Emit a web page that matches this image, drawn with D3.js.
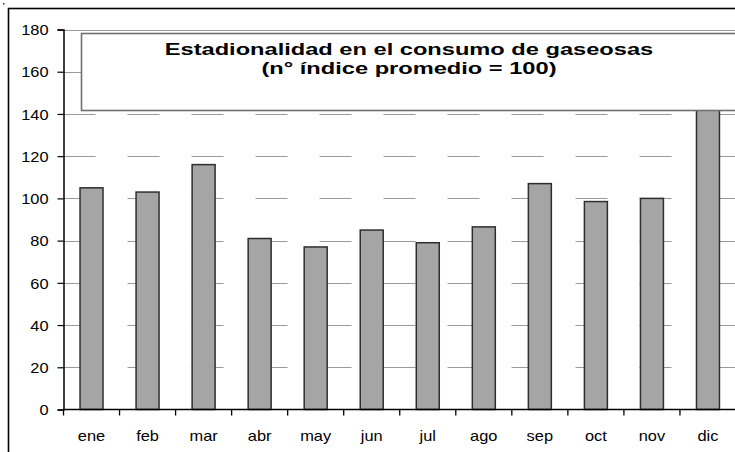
<!DOCTYPE html>
<html>
<head>
<meta charset="utf-8">
<script src="https://cdn.jsdelivr.net/npm/d3@7"></script>
<style>
  html, body { margin: 0; padding: 0; background: #fff; }
  svg { display: block; }
  text { font-family: "Liberation Sans", Arial, sans-serif; fill: #000; }
</style>
</head>
<body>
<svg id="chart" width="735" height="452"></svg>
<script>
// Monthly seasonality index of soft-drink consumption (average = 100)
const months = ["ene", "feb", "mar", "abr", "may", "jun", "jul", "ago", "sep", "oct", "nov", "dic"];
const indexValues = [105, 103, 116, 81, 77, 85, 79, 86.5, 107, 98.5, 100, 162];
const yTicks = [0, 20, 40, 60, 80, 100, 120, 140, 160, 180];
const titleLines = ["Estadionalidad en el consumo de gaseosas", "(n° índice promedio = 100)"];

(function () {
  const svg = d3.select("#chart");
  const W = 735, H = 452;

  // plot area
  const plotL = 63.5, plotR = 736, plotT = 29.5, plotB = 409.5;

  const x = d3.scaleBand()
    .domain(months)
    .range([plotL, plotR])
    .paddingInner(0.59)
    .paddingOuter(0.295);

  const y = d3.scaleLinear()
    .domain([0, 180])
    .range([plotB, plotT]);

  const step = x.step();
  const gap = (step - x.bandwidth()) / 2;

  // widen glyphs horizontally, as the chart's lettering is drawn wide
  function stretch(sel, k) {
    sel.each(function () {
      const len = this.getComputedTextLength();
      d3.select(this).attr("textLength", len * k).attr("lengthAdjust", "spacingAndGlyphs");
    });
  }

  // stray dot in the corner and outer chart frame
  svg.append("rect").attr("x", 3).attr("y", 3).attr("width", 1.5).attr("height", 1.5).attr("fill", "#333");
  svg.append("rect")
    .attr("x", 8.5).attr("y", 8.5)
    .attr("width", W + 50).attr("height", H + 50)
    .attr("fill", "none").attr("stroke", "#000").attr("stroke-width", 1.6);

  // horizontal gridlines: dashed, top one solid
  svg.append("g")
    .selectAll("line")
    .data(yTicks.filter(v => v > 0))
    .join("line")
    .attr("x1", plotL).attr("x2", W)
    .attr("y1", d => Math.round(y(d)) + 0.5)
    .attr("y2", d => Math.round(y(d)) + 0.5)
    .attr("stroke", "#9a9a9a")
    .attr("stroke-width", 1.2)
    .attr("stroke-dasharray", d => d === 180 ? null : "32,32");

  // bars
  svg.append("g")
    .selectAll("rect")
    .data(indexValues)
    .join("rect")
    .attr("x", (d, i) => x(months[i]))
    .attr("y", d => y(d))
    .attr("width", x.bandwidth())
    .attr("height", d => y(0) - y(d))
    .attr("fill", "#a5a5a5")
    .attr("stroke", "#2e2e2e")
    .attr("stroke-width", 1.5);

  // y axis
  const yAxis = svg.append("g")
    .attr("transform", `translate(${plotL},0)`)
    .call(d3.axisLeft(y).tickValues(yTicks).tickSize(6).tickPadding(9).tickFormat(d3.format("d")));
  yAxis.select(".domain").attr("stroke", "#000").attr("stroke-width", 1.5);
  yAxis.selectAll(".tick line").attr("stroke", "#000").attr("stroke-width", 1.2);
  yAxis.selectAll(".tick text")
    .attr("font-size", 14.5)
    .attr("font-family", "'Liberation Sans', Arial, sans-serif")
    .attr("fill", "#000")
    .attr("dy", "0.36em")
    .call(stretch, 1.13);

  // x axis line, boundary ticks and month labels
  const xAxis = svg.append("g");
  xAxis.append("line")
    .attr("x1", plotL).attr("x2", W)
    .attr("y1", plotB).attr("y2", plotB)
    .attr("stroke", "#000").attr("stroke-width", 1.6);
  xAxis.selectAll("line.tk")
    .data(d3.range(months.length + 1))
    .join("line")
    .attr("class", "tk")
    .attr("x1", i => i < months.length ? x(months[i]) - gap : x(months[months.length - 1]) + x.bandwidth() + gap)
    .attr("x2", i => i < months.length ? x(months[i]) - gap : x(months[months.length - 1]) + x.bandwidth() + gap)
    .attr("y1", plotB).attr("y2", plotB + 6)
    .attr("stroke", "#000").attr("stroke-width", 1.3);
  xAxis.selectAll("text")
    .data(months)
    .join("text")
    .attr("x", d => x(d) + x.bandwidth() / 2)
    .attr("y", plotB + 31.5)
    .attr("text-anchor", "middle")
    .attr("font-size", 14.5)
    .text(d => d)
    .call(stretch, 1.13);

  // title box
  const tb = svg.append("g");
  tb.append("rect")
    .attr("x", 81.5).attr("y", 33.5)
    .attr("width", 700).attr("height", 77)
    .attr("fill", "#fff")
    .attr("stroke", "#707070")
    .attr("stroke-width", 1.6);
  tb.selectAll("text")
    .data(titleLines)
    .join("text")
    .attr("x", 409)
    .attr("y", (d, i) => 54.5 + i * 19)
    .attr("text-anchor", "middle")
    .attr("font-size", 17)
    .attr("font-weight", "bold")
    .text(d => d)
    .call(stretch, 1.39);
})();
</script>
</body>
</html>
